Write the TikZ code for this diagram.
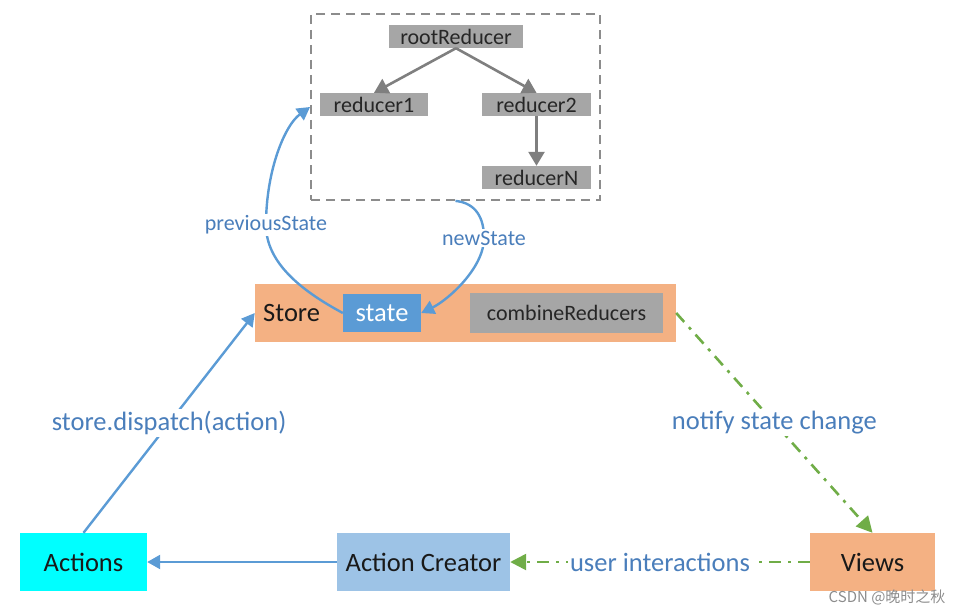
\documentclass[tikz,border=0pt]{standalone}
\usepackage{fontspec}
\setmainfont{Carlito}
\newfontfamily\cjkfont{Noto Sans CJK SC}
\usetikzlibrary{arrows.meta}
\definecolor{storeor}{HTML}{F4B183}
\definecolor{stateblue}{HTML}{5B9BD5}
\definecolor{boxgray}{HTML}{A6A6A6}
\definecolor{creatorblue}{HTML}{9DC3E6}
\definecolor{linegray}{HTML}{7F7F7F}
\definecolor{lblblue}{HTML}{4A7EBB}
\definecolor{arrblue}{HTML}{5B9BD5}
\definecolor{grn}{HTML}{70AD47}
\definecolor{dashgray}{HTML}{8C8C8C}
\definecolor{aqua}{HTML}{00FFFF}
\tikzset{
  bigtxt/.style={font=\fontsize{26.5}{30}\selectfont},
  smalltxt/.style={font=\fontsize{22}{25}\selectfont},
  mainbox/.style={draw=none, inner sep=0pt, bigtxt, text=black!90},
  redbox/.style={fill=boxgray, inner sep=0pt, minimum width=108pt, minimum height=23pt, smalltxt, text=black!85},
  treearrow/.style={draw=linegray, line width=2.6pt, -{Triangle[length=14pt,width=16pt]}},
  bluearrow/.style={draw=arrblue, line width=2.4pt, -{Triangle[length=13pt,width=14pt]}},
  greenarrow/.style={draw=grn, line width=2.6pt, dash pattern=on 12pt off 7pt on 3pt off 7pt, -{Triangle[length=16pt,width=16pt]}},
  bluelbl/.style={text=lblblue, fill=white, inner sep=2pt},
}
\begin{document}
\begin{tikzpicture}[x=1pt,y=-1pt]
\useasboundingbox (0,0) rectangle (965,615);
% dashed frame
\node[draw=dashgray, line width=1.8pt, dash pattern=on 9pt off 6pt, minimum width=289pt, minimum height=186pt, inner sep=0pt] (frame) at (455.5,107) {};
% tree
\node[redbox, minimum width=134pt] (root) at (456,36.5) {rootReducer};
\node[redbox] (r1) at (374,104.5) {reducer1};
\node[redbox, minimum width=109pt] (r2) at (536.5,104.5) {reducer2};
\node[redbox, minimum width=109pt] (rN) at (536.5,177.5) {reducerN};
\draw[treearrow] (root.south) -- (r1.north);
\draw[treearrow] (root.south) -- (r2.north);
\draw[treearrow] (r2.south) -- (rN.north);
% store
\node[fill=storeor, minimum width=421pt, minimum height=58pt, inner sep=0pt] (store) at (465.5,313) {};
\node[mainbox, anchor=west] (storelbl) at (263,313) {Store};
\node[fill=stateblue, minimum width=78pt, minimum height=38pt, inner sep=0pt, bigtxt, text=white] (state) at (382,313) {state};
\node[fill=boxgray, minimum width=193pt, minimum height=40pt, inner sep=0pt, smalltxt, text=black!85] (comb) at (566.5,313) {combineReducers};
% curves
\draw[bluearrow] (state.west) .. controls (300,290) and (266,262) .. (266,225)
  node[bluelbl, smalltxt] (prevlbl) {previousState}
  .. controls (266,170) and (285,125) .. (frame.west);
\draw[bluearrow] (frame.south) .. controls (476,203) and (484,218) .. (484,238)
  node[bluelbl, smalltxt] (newlbl) {newState}
  .. controls (484,268) and (448,300) .. (state.east);
% bottom nodes
\node[fill=aqua, minimum width=127pt, minimum height=58pt, inner sep=0pt, bigtxt, text=black!90] (actions) at (83.5,562) {Actions};
\node[fill=creatorblue, minimum width=173pt, minimum height=58pt, inner sep=0pt, bigtxt, text=black!90] (creator) at (423.5,562) {Action Creator};
\node[fill=storeor, minimum width=125pt, minimum height=58pt, inner sep=0pt, bigtxt, text=black!90] (views) at (872.5,562) {Views};
% connectors
\draw[bluearrow] (actions.north) -- node[bluelbl, bigtxt, pos=0.5] (displbl) {store.dispatch(action)} (store.west);
\draw[bluearrow] (creator.west) -- (actions.east);
\draw[greenarrow] (views.west) -- node[bluelbl, bigtxt] (uilbl) {user interactions} (creator.east);
\draw[greenarrow] (store.east) -- node[bluelbl, bigtxt] (notlbl) {notify state change} (views.north);
% watermark
\node[text=black!45, font=\cjkfont\fontsize{15}{17}\selectfont, anchor=east] (wm) at (949,597) {CSDN @晚时之秋};
\end{tikzpicture}
\end{document}
